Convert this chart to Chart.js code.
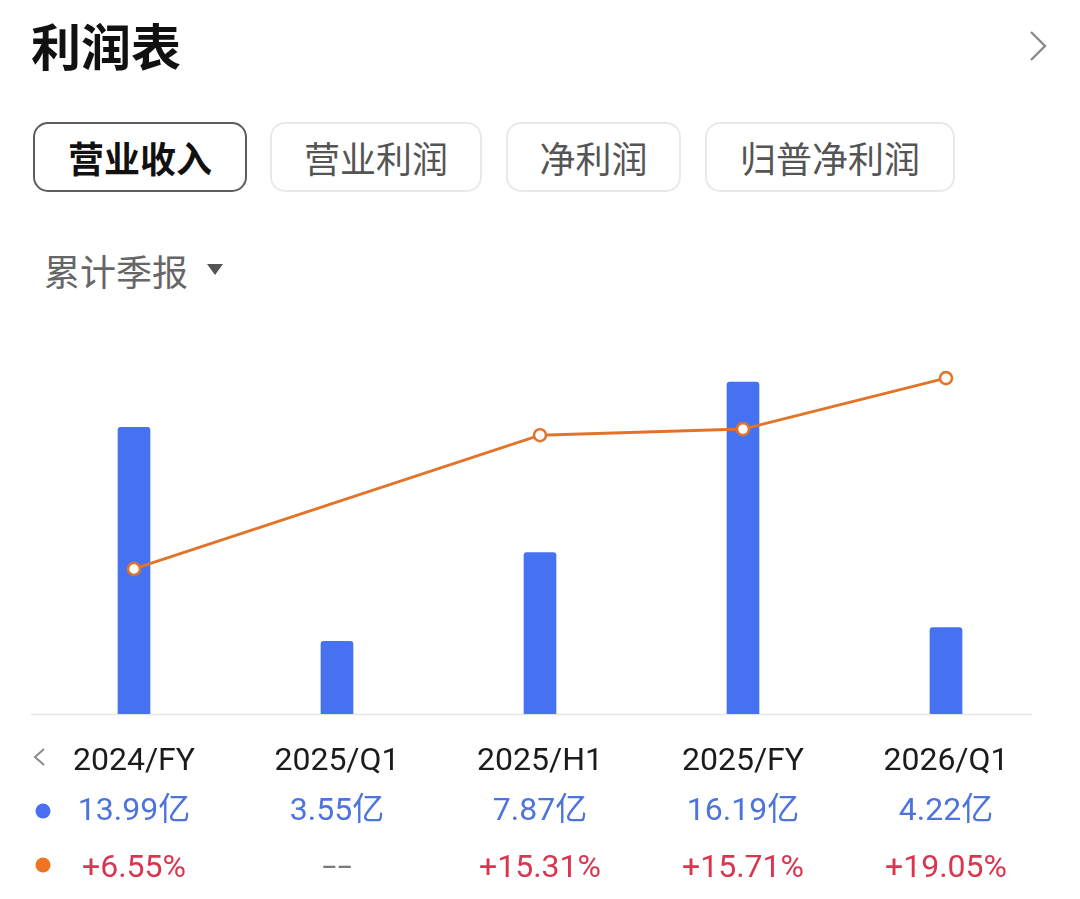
<!DOCTYPE html>
<html>
<head>
<meta charset="utf-8">
<script src="https://cdn.jsdelivr.net/npm/chart.js@4/dist/chart.umd.min.js"></script>
<style>
  html, body { margin:0; padding:0; background:#fff; width:1080px; height:899px; overflow:hidden; }
  body { position:relative; font-family: "Noto Sans CJK SC", Roboto, sans-serif; }
  .title { position:absolute; left:31px; top:19px; font-size:50px; line-height:50px; font-weight:700; color:#111; }
  .chev { position:absolute; left:1026px; top:28px; }
  .tab { position:absolute; top:122px; height:70px; box-sizing:border-box; border:2px solid #e9e9e9; border-radius:15px;
         display:flex; align-items:center; justify-content:center; font-size:36px; color:#555; }
  .tab.active { border-color:#5c5c5c; color:#111; font-weight:700; }
  .period { position:absolute; left:44px; top:252px; font-size:36px; line-height:36px; color:#666; }
  .tri { position:absolute; left:207px; top:264px; width:0; height:0; border-left:8px solid transparent; border-right:8px solid transparent; border-top:11px solid #555; }
  #wrap { position:absolute; left:0; top:330px; width:1080px; height:569px; }
</style>
</head>
<body>
<div class="title">利润表</div>
<svg class="chev" width="24" height="36" viewBox="0 0 24 36"><polyline points="5,4 19,18 5,32" fill="none" stroke="#8a8a8a" stroke-width="2.4"/></svg>
<div class="tab active" style="left:33px;width:214px;">营业收入</div>
<div class="tab" style="left:270px;width:212px;">营业利润</div>
<div class="tab" style="left:506px;width:175px;">净利润</div>
<div class="tab" style="left:705px;width:250px;">归普净利润</div>
<div class="period">累计季报</div>
<div class="tri"></div>
<div id="wrap"><canvas id="c" width="1080" height="569"></canvas></div>
<script>
const categories = ['2024/FY', '2025/Q1', '2025/H1', '2025/FY', '2026/Q1'];
const revenue = [13.99, 3.55, 7.87, 16.19, 4.22];      // 营业收入（亿）
const growth = [6.55, null, 15.31, 15.71, 19.05];       // 同比增长（%）
const unitLabel = '亿';

const barColor = '#4672F1';
const lineColor = '#E2742A';

const tablePlugin = {
  id: 'tablePlugin',
  beforeDatasetsDraw(chart) {
    const { ctx, chartArea } = chart;
    ctx.save();
    ctx.strokeStyle = '#e6e6e6';
    ctx.lineWidth = 1.5;
    ctx.beginPath();
    ctx.moveTo(chartArea.left - 1.5, chartArea.bottom + 0.5);
    ctx.lineTo(chartArea.right - 15.5, chartArea.bottom + 0.5);
    ctx.stroke();
    ctx.restore();
  },
  afterDraw(chart) {
    const { ctx, chartArea } = chart;
    const xs = chart.scales.x;
    const base = chartArea.bottom;
    const yLabel = base + 55.5, yVal = base + 106, yPct = base + 162.5;
    ctx.save();
    ctx.textAlign = 'center';
    ctx.textBaseline = 'alphabetic';
    const font = '32px Roboto, "Noto Sans CJK SC", sans-serif';
    categories.forEach((c, i) => {
      const x = xs.getPixelForValue(i);
      ctx.font = font;
      ctx.fillStyle = '#1b1b1b';
      ctx.fillText(c, x, yLabel);
      ctx.fillStyle = '#4d74dc';
      ctx.fillText(revenue[i].toFixed(2) + unitLabel, x, yVal);
      if (growth[i] === null) {
        ctx.fillStyle = '#7a7a7a';
        ctx.font = '500 24px Roboto, sans-serif';
        ctx.fillText('\u2013\u2013', x, base + 161);
      } else {
        ctx.fillStyle = '#d9354f';
        ctx.fillText((growth[i] >= 0 ? '+' : '') + growth[i].toFixed(2) + '%', x, yPct);
      }
    });
    // left markers
    ctx.strokeStyle = '#8a8a8a';
    ctx.lineWidth = 2;
    ctx.beginPath();
    ctx.moveTo(44, base + 35);
    ctx.lineTo(35, base + 43);
    ctx.lineTo(44, base + 51);
    ctx.stroke();
    ctx.fillStyle = '#4a6ff0';
    ctx.beginPath(); ctx.arc(43, base + 97, 7.5, 0, Math.PI * 2); ctx.fill();
    ctx.fillStyle = '#f07421';
    ctx.beginPath(); ctx.arc(43, base + 151, 7.5, 0, Math.PI * 2); ctx.fill();
    ctx.restore();
  }
};

new Chart(document.getElementById('c'), {
  type: 'bar',
  data: {
    labels: categories,
    datasets: [
      {
        type: 'line',
        data: growth,
        yAxisID: 'y1',
        order: 0,
        borderColor: lineColor,
        borderWidth: 3,
        pointRadius: 6,
        pointBorderWidth: 2.6,
        pointBackgroundColor: '#fff',
        pointBorderColor: lineColor,
        spanGaps: true,
        tension: 0
      },
      {
        type: 'bar',
        data: revenue,
        yAxisID: 'y',
        order: 1,
        backgroundColor: barColor,
        barThickness: 32,
        borderRadius: { topLeft: 3, topRight: 3, bottomLeft: 0, bottomRight: 0 },
        borderSkipped: 'bottom'
      }
    ]
  },
  options: {
    responsive: false,
    animation: false,
    layout: { padding: { left: 32.5, right: 32.5, top: 20, bottom: 185 } },
    plugins: { legend: { display: false }, tooltip: { enabled: false } },
    scales: {
      x: { display: false, offset: true },
      y: { display: false, min: 0, max: 17.76 },
      y1: { display: false, min: -2.95, max: 20.89, position: 'right' }
    }
  },
  plugins: [tablePlugin]
});
</script>
</body>
</html>
